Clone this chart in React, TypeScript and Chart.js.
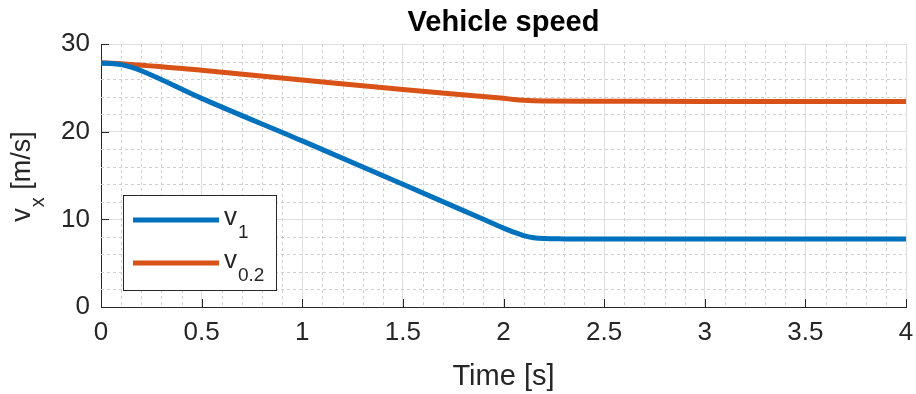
import React, { useEffect, useRef } from "react";
import { Chart, registerables } from "chart.js";

Chart.register(...registerables);

const TITLE = "Vehicle speed";
const X_LABEL = "Time [s]";
const Y_LABEL_MAIN = "v";
const Y_LABEL_SUB = "x";
const Y_LABEL_REST = " [m/s]";
const LEGEND_MAIN = ["v", "v"];
const LEGEND_SUB = ["1", "0.2"];

const v1Time = [0, 0.05, 0.1, 0.15, 0.2, 0.5, 1.0, 1.5, 1.9, 2.0, 2.05, 2.1, 2.15, 2.2, 2.3, 2.5, 3.0, 3.5, 4.0];
const v1Values = [27.8, 27.78, 27.65, 27.35, 26.95, 23.8, 18.95, 14.0, 10.0, 9.0, 8.55, 8.15, 7.9, 7.8, 7.77, 7.75, 7.75, 7.75, 7.75];

const v02Time = [0, 0.1, 0.5, 1.0, 1.5, 2.0, 2.05, 2.1, 2.15, 2.2, 2.5, 3.0, 3.5, 4.0];
const v02Values = [27.85, 27.75, 27.0, 25.9, 24.8, 23.8, 23.68, 23.58, 23.52, 23.5, 23.48, 23.45, 23.45, 23.45];

const X_MIN = 0, X_MAX = 4, X_STEP = 0.5, X_MINOR = 0.1;
const Y_MIN = 0, Y_MAX = 30, Y_STEP = 10, Y_MINOR = 2;

const BLUE = "#0072BD";
const ORANGE = "#D95319";
const AXIS = "#262626";
const FONT = "'Liberation Sans', Arial, Helvetica, sans-serif";

const decorPlugin = {
  id: "decor",
  beforeDatasetsDraw(chart: any) {
    const { ctx, chartArea, scales } = chart;
    const xs = scales.x, ys = scales.y;
    ctx.save();
    ctx.strokeStyle = "#cfcfcf";
    ctx.lineWidth = 1;
    ctx.setLineDash([3, 3]);
    for (let i = 1; i * X_MINOR < X_MAX; i++) {
      const v = Math.round(i * X_MINOR * 10) / 10;
      if (Math.abs(v / X_STEP - Math.round(v / X_STEP)) < 1e-6) continue;
      const px = Math.round(xs.getPixelForValue(v)) + 0.5;
      ctx.beginPath();
      ctx.moveTo(px, chartArea.top);
      ctx.lineTo(px, chartArea.bottom);
      ctx.stroke();
    }
    for (let v = Y_MINOR; v < Y_MAX; v += Y_MINOR) {
      if (v % Y_STEP === 0) continue;
      const py = Math.round(ys.getPixelForValue(v)) + 0.5;
      ctx.beginPath();
      ctx.moveTo(chartArea.left, py);
      ctx.lineTo(chartArea.right, py);
      ctx.stroke();
    }
    ctx.restore();
  },
  afterDraw(chart: any) {
    const { ctx, chartArea, scales } = chart;
    const xs = scales.x, ys = scales.y;
    ctx.save();
    ctx.strokeStyle = AXIS;
    ctx.lineWidth = 1;
    ctx.setLineDash([]);
    for (let v = X_MIN; v <= X_MAX + 1e-9; v += X_STEP) {
      const px = Math.round(xs.getPixelForValue(v)) + 0.5;
      ctx.beginPath();
      ctx.moveTo(px, chartArea.bottom);
      ctx.lineTo(px, chartArea.bottom - 8);
      ctx.stroke();
    }
    for (let v = Y_MIN; v <= Y_MAX + 1e-9; v += Y_STEP) {
      const py = Math.round(ys.getPixelForValue(v)) + 0.5;
      ctx.beginPath();
      ctx.moveTo(chartArea.left, py);
      ctx.lineTo(chartArea.left + 8, py);
      ctx.stroke();
    }
    const cx = (chartArea.left + chartArea.right) / 2;
    ctx.fillStyle = "#000000";
    ctx.font = `bold 29px ${FONT}`;
    ctx.textAlign = "center";
    ctx.textBaseline = "alphabetic";
    ctx.fillText(TITLE, cx, 31);
    ctx.fillStyle = AXIS;
    ctx.font = `29px ${FONT}`;
    ctx.fillText(X_LABEL, cx, 385);
    // y label
    ctx.translate(30, 177);
    ctx.rotate(-Math.PI / 2);
    const bigFont = `27px ${FONT}`;
    const subFont = `20px ${FONT}`;
    ctx.font = bigFont;
    const wMain = ctx.measureText(Y_LABEL_MAIN).width;
    const wRest = ctx.measureText(Y_LABEL_REST).width;
    ctx.font = subFont;
    const wSub = ctx.measureText(Y_LABEL_SUB).width;
    const total = wMain + wSub + wRest;
    let x0 = -total / 2;
    ctx.textAlign = "left";
    ctx.font = bigFont;
    ctx.fillText(Y_LABEL_MAIN, x0, 0);
    x0 += wMain + 1;
    ctx.font = subFont;
    ctx.fillText(Y_LABEL_SUB, x0, 14);
    x0 += wSub;
    ctx.font = bigFont;
    ctx.fillText(Y_LABEL_REST, x0, 0);
    ctx.setTransform(1, 0, 0, 1, 0, 0);
    ctx.restore();

    ctx.save();
    const lx = 123.5, ly = 195.5, lw = 153, lh = 95;
    ctx.fillStyle = "#ffffff";
    ctx.fillRect(lx, ly, lw, lh);
    ctx.strokeStyle = AXIS;
    ctx.lineWidth = 1;
    ctx.strokeRect(lx, ly, lw, lh);
    const colors = [BLUE, ORANGE];
    const rows = [220, 263];
    for (let i = 0; i < 2; i++) {
      ctx.strokeStyle = colors[i];
      ctx.lineWidth = 5;
      ctx.beginPath();
      ctx.moveTo(133, rows[i]);
      ctx.lineTo(219, rows[i]);
      ctx.stroke();
      ctx.fillStyle = AXIS;
      ctx.textAlign = "left";
      ctx.textBaseline = "alphabetic";
      ctx.font = `26px ${FONT}`;
      ctx.fillText(LEGEND_MAIN[i], 224, rows[i] + 5);
      const w = ctx.measureText(LEGEND_MAIN[i]).width;
      ctx.font = `19px ${FONT}`;
      ctx.fillText(LEGEND_SUB[i], 224 + w + 1, rows[i] + 18);
    }
    ctx.restore();
  },
};

const fmt = (v: any) => String(Number(v));

export default function App() {
  const ref = useRef<HTMLCanvasElement | null>(null);
  useEffect(() => {
    if (!ref.current) return;
    const chart = new Chart(ref.current, {
      type: "line",
      data: {
        datasets: [
          {
            label: "v1",
            data: v1Time.map((t, i) => ({ x: t, y: v1Values[i] })),
            borderColor: BLUE,
            borderWidth: 5,
            pointRadius: 0,
            cubicInterpolationMode: "monotone",
            fill: false,
          },
          {
            label: "v0.2",
            data: v02Time.map((t, i) => ({ x: t, y: v02Values[i] })),
            borderColor: ORANGE,
            borderWidth: 5,
            pointRadius: 0,
            cubicInterpolationMode: "monotone",
            fill: false,
          },
        ],
      },
      options: {
        animation: false,
        responsive: true,
        maintainAspectRatio: false,
        layout: { padding: { top: 44, right: 10, left: 0, bottom: 0 } },
        plugins: { legend: { display: false }, title: { display: false }, tooltip: { enabled: false } },
        scales: {
          x: {
            type: "linear",
            min: X_MIN,
            max: X_MAX,
            afterFit: (s: any) => { s.height = 87; s.paddingRight = 0; s.paddingLeft = 0; },
            ticks: {
              stepSize: X_STEP,
              color: AXIS,
              font: { family: FONT, size: 26 },
              padding: 10,
              maxRotation: 0,
              autoSkip: false,
              callback: fmt,
            },
            grid: { color: "#dedede", lineWidth: 1, drawTicks: false },
            border: { display: true, color: AXIS, width: 1 },
          },
          y: {
            type: "linear",
            min: Y_MIN,
            max: Y_MAX,
            afterFit: (s: any) => { s.width = 101; s.paddingTop = 0; s.paddingBottom = 0; },
            ticks: {
              stepSize: Y_STEP,
              color: AXIS,
              font: { family: FONT, size: 26 },
              padding: 11,
              callback: fmt,
            },
            grid: { color: "#dedede", lineWidth: 1, drawTicks: false },
            border: { display: true, color: AXIS, width: 1 },
          },
        },
      },
      plugins: [decorPlugin],
    });
    return () => chart.destroy();
  }, []);
  return (
    <div style={{ position: "fixed", left: 0, top: 0, width: 916, height: 394, background: "#ffffff" }}>
      <canvas ref={ref} />
    </div>
  );
}
